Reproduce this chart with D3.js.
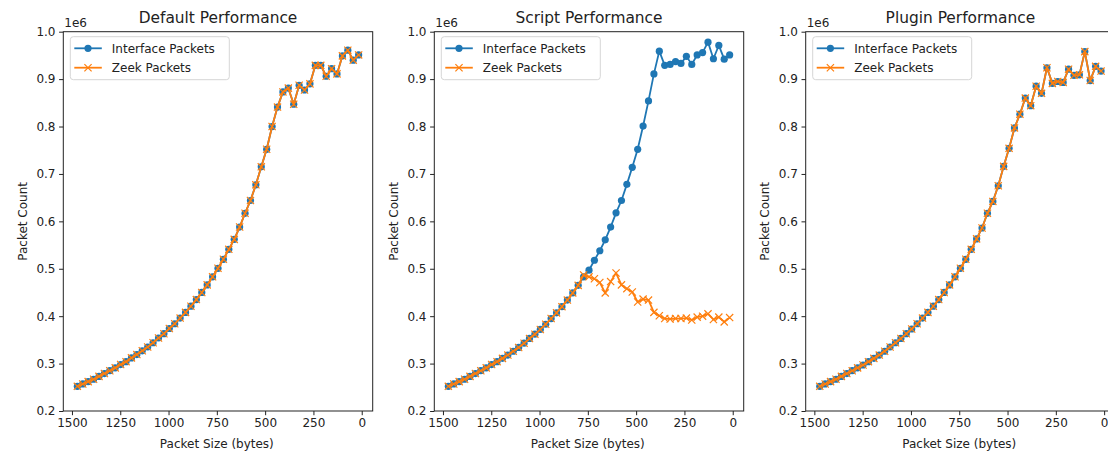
<!DOCTYPE html>
<html>
<head>
<meta charset="utf-8">
<script src="https://cdn.jsdelivr.net/npm/d3@7"></script>
<style>
  body { margin: 0; background: #fff; }
  text { font-family: "DejaVu Sans", sans-serif; fill: #222; }
</style>
</head>
<body>
<div id="chart"></div>
<script>

// Packet sizes (bytes) on the x axis
var packetSizes = [1472, 1444, 1416, 1388, 1360, 1332, 1304, 1276, 1248, 1220, 1192, 1164, 1136, 1108,
    1080, 1052, 1024, 996, 968, 940, 912, 884, 856, 828, 800, 772, 744, 716, 688, 660, 632, 604, 576,
    548, 520, 492, 464, 436, 408, 380, 352, 324, 296, 268, 240, 212, 184, 156, 128, 100, 72, 44, 16];

// Packet counts (thousands)
var defaultInterface = [252, 257, 262, 267, 273, 279, 285, 291, 298, 304, 312, 319, 327, 335, 344, 354,
    363, 374, 384, 396, 408, 421, 435, 450, 466, 483, 501, 520, 541, 562, 588, 617, 644, 677, 715, 752,
    800, 841, 873, 881, 847, 887, 877, 890, 929, 929, 906, 922, 911, 949, 961, 940, 951];
var defaultZeek = [252, 257, 262, 267, 273, 279, 285, 291, 298, 304, 312, 319, 327, 335, 344, 354,
    363, 374, 384, 396, 408, 421, 435, 450, 466, 483, 501, 520, 541, 562, 588, 617, 644, 677, 715, 752,
    800, 841, 873, 881, 847, 887, 877, 890, 929, 929, 906, 922, 911, 949, 961, 940, 951];

var scriptInterface = [252, 257, 262, 267, 273, 279, 285, 291, 298, 304, 311, 318, 326, 334, 343, 353,
    362, 372, 383, 395, 407, 420, 434, 449, 465, 483, 497, 518, 538, 561, 588, 618, 644, 678, 714, 752,
    801, 854, 911, 959, 929, 931, 937, 933, 948, 931, 951, 956, 978, 943, 971, 942, 951];
var scriptZeek = [252, 257, 262, 267, 273, 279, 285, 291, 298, 304, 311, 318, 326, 334, 343, 353,
    362, 372, 383, 395, 407, 420, 434, 449, 465, 487, 483, 479, 471, 449, 473, 491, 466, 458, 451, 430,
    436, 434, 408, 401, 395, 394, 395, 395, 396, 392, 398, 400, 405, 393, 398, 388, 397];

var pluginInterface = [252, 257, 262, 267, 273, 279, 285, 291, 297, 304, 311, 318, 326, 335, 344, 353,
    363, 373, 384, 396, 408, 421, 435, 450, 466, 483, 501, 520, 541, 563, 586, 617, 642, 675, 716, 754,
    797, 826, 860, 844, 885, 870, 924, 891, 895, 893, 921, 908, 909, 958, 897, 927, 917];
var pluginZeek = [252, 257, 262, 267, 273, 279, 285, 291, 297, 304, 311, 318, 326, 335, 344, 353,
    363, 373, 384, 396, 408, 421, 435, 450, 466, 483, 501, 520, 541, 563, 586, 617, 642, 675, 716, 754,
    797, 826, 860, 844, 885, 870, 924, 891, 895, 893, 921, 908, 909, 958, 897, 927, 917];

var panelTitles = ["Default Performance", "Script Performance", "Plugin Performance"];
var seriesNames = ["Interface Packets", "Zeek Packets"];
var xTicks = [1500, 1250, 1000, 750, 500, 250, 0];
var yTicks = [0.2, 0.3, 0.4, 0.5, 0.6, 0.7, 0.8, 0.9, 1.0];

var blue = "#1f77b4", orange = "#ff7f0e";

var svg = d3.select("#chart").append("svg")
    .attr("width", 1108).attr("height", 452)
    .style("display", "block");

var panelLefts = [63.3, 434.3, 805.7];
var panelW = 309.4, panelTop = 31.7, panelH = 379.3;

var panels = [
    [defaultInterface, defaultZeek],
    [scriptInterface, scriptZeek],
    [pluginInterface, pluginZeek]
];

panels.forEach(function(p, k) {
    drawPanel(panelLefts[k], panelTitles[k], p[0], p[1]);
});

function crossPath(s) {
    return "M" + (-s) + "," + (-s) + "L" + s + "," + s + "M" + (-s) + "," + s + "L" + s + "," + (-s);
}

function drawPanel(left, title, iface, zeek) {

    var g = svg.append("g").attr("transform", "translate(" + left + "," + panelTop + ")");

    // matplotlib style 5% margins, axis reversed
    var ext = d3.extent(packetSizes);
    var pad = (ext[1] - ext[0]) * 0.05;
    var x = d3.scaleLinear().domain([ext[1] + pad, ext[0] - pad]).range([0, panelW]);
    var y = d3.scaleLinear().domain([0.2e6, 1.0e6]).range([panelH, 0]);

    var xAxis = d3.axisBottom(x).tickValues(xTicks).tickFormat(d3.format("d"))
        .tickSize(4.2).tickSizeOuter(0).tickPadding(3.6);
    var yAxis = d3.axisLeft(y).tickValues(yTicks.map(function(t){ return t * 1e6; }))
        .tickFormat(function(d){ return (d / 1e6).toFixed(1); })
        .tickSize(4.2).tickSizeOuter(0).tickPadding(3.6);

    var gx = g.append("g").attr("transform", "translate(0," + panelH + ")").call(xAxis);
    var gy = g.append("g").call(yAxis);
    [gx, gy].forEach(function(a){
        a.attr("font-family", null).attr("font-size", null);
        a.select(".domain").remove();
        a.selectAll("line").attr("stroke", "#222").attr("stroke-width", 1);
        a.selectAll("text").style("font-size", "12px").attr("fill", "#222");
    });

    var clip = "clip" + Math.round(left);
    g.append("clipPath").attr("id", clip).append("rect")
        .attr("width", panelW).attr("height", panelH);

    var plot = g.append("g").attr("clip-path", "url(#" + clip + ")");

    var line = function(vals) {
        return d3.line()
            .x(function(d, i){ return x(packetSizes[i]); })
            .y(function(d){ return y(d * 1000); })(vals);
    };

    // interface packets
    plot.append("path").attr("d", line(iface))
        .attr("fill", "none").attr("stroke", blue).attr("stroke-width", 1.8);
    plot.selectAll(".dot").data(iface).enter().append("circle")
        .attr("cx", function(d, i){ return x(packetSizes[i]); })
        .attr("cy", function(d){ return y(d * 1000); })
        .attr("r", 3.6).attr("fill", blue);

    // zeek packets
    plot.append("path").attr("d", line(zeek))
        .attr("fill", "none").attr("stroke", orange).attr("stroke-width", 1.8);
    plot.selectAll(".cross").data(zeek).enter().append("path")
        .attr("transform", function(d, i){ return "translate(" + x(packetSizes[i]) + "," + y(d * 1000) + ")"; })
        .attr("d", crossPath(3.6))
        .attr("stroke", orange).attr("stroke-width", 1.2).attr("fill", "none");

    // frame
    g.append("rect").attr("width", panelW).attr("height", panelH)
        .attr("fill", "none").attr("stroke", "#222").attr("stroke-width", 1);

    // texts
    g.append("text").attr("x", panelW / 2).attr("y", -8.4)
        .attr("text-anchor", "middle").style("font-size", "15.4px").text(title);
    g.append("text").attr("x", 1).attr("y", -5)
        .style("font-size", "12px").text("1e6");
    g.append("text").attr("x", x(750)).attr("y", panelH + 37.5)
        .attr("text-anchor", "middle").style("font-size", "12px").text("Packet Size (bytes)");
    g.append("text").attr("transform", "translate(" + (27 - 63.3) + "," + (panelH / 2) + ") rotate(-90)")
        .attr("text-anchor", "middle").style("font-size", "12px").text("Packet Count");

    // legend
    var lg = g.append("g").attr("transform", "translate(7,5)");
    lg.append("rect").attr("width", 159).attr("height", 43).attr("rx", 3)
        .attr("fill", "#fff").attr("fill-opacity", 0.8)
        .attr("stroke", "#d6d6d6").attr("stroke-width", 1);
    seriesNames.forEach(function(name, j) {
        var cy = 11.6 + j * 19.4;
        var col = j === 0 ? blue : orange;
        lg.append("line").attr("x1", 4).attr("x2", 31.5).attr("y1", cy).attr("y2", cy)
            .attr("stroke", col).attr("stroke-width", 1.8);
        if (j === 0) {
            lg.append("circle").attr("cx", 17.7).attr("cy", cy).attr("r", 3.6).attr("fill", col);
        } else {
            lg.append("path").attr("transform", "translate(17.7," + cy + ")")
                .attr("d", crossPath(3.6)).attr("stroke", col).attr("stroke-width", 1.2);
        }
        lg.append("text").attr("x", 41.5).attr("y", cy + 4.3)
            .style("font-size", "12px").text(name);
    });
}

</script>
</body>
</html>
